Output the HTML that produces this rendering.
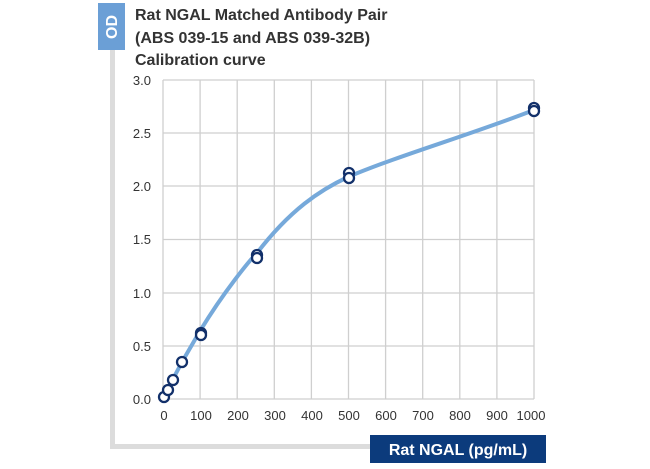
<!DOCTYPE html>
<html><head><style>
body{margin:0;background:#fff;width:650px;height:464px;overflow:hidden;font-family:"Liberation Sans",sans-serif}
</style></head><body>
<svg width="650" height="464" xmlns="http://www.w3.org/2000/svg" font-family="Liberation Sans, sans-serif">
<rect x="110" y="45" width="5" height="404" fill="#dcdcdc"/>
<rect x="110" y="444" width="265" height="5" fill="#dcdcdc"/>
<rect x="98" y="3" width="27" height="47" fill="#6b9fd6"/>
<text x="0" y="0" transform="translate(117,27) rotate(-90)" text-anchor="middle" fill="#fff" font-size="16" font-weight="bold">OD</text>
<text x="135" y="20" font-size="16" font-weight="bold" fill="#333">Rat NGAL Matched Antibody Pair</text>
<text x="135" y="43" font-size="16" font-weight="bold" fill="#333">(ABS 039-15 and ABS 039-32B)</text>
<text x="135" y="65" font-size="16" font-weight="bold" fill="#333">Calibration curve</text>
<g stroke="#cfcfcf" stroke-width="1.3" fill="none">
<line x1="163" y1="80" x2="534" y2="80"/><line x1="163" y1="133" x2="534" y2="133"/>
<line x1="163" y1="186" x2="534" y2="186"/><line x1="163" y1="239.5" x2="534" y2="239.5"/>
<line x1="163" y1="293" x2="534" y2="293"/><line x1="163" y1="346" x2="534" y2="346"/>
<line x1="163" y1="399" x2="534" y2="399"/>
<line x1="163" y1="80" x2="163" y2="399"/><line x1="200.1" y1="80" x2="200.1" y2="399"/>
<line x1="237.2" y1="80" x2="237.2" y2="399"/><line x1="274.3" y1="80" x2="274.3" y2="399"/>
<line x1="311.4" y1="80" x2="311.4" y2="399"/><line x1="348.5" y1="80" x2="348.5" y2="399"/>
<line x1="385.6" y1="80" x2="385.6" y2="399"/><line x1="422.7" y1="80" x2="422.7" y2="399"/>
<line x1="459.8" y1="80" x2="459.8" y2="399"/><line x1="496.9" y1="80" x2="496.9" y2="399"/>
<line x1="534" y1="80" x2="534" y2="399"/>
</g>
<g font-size="13" fill="#333" text-anchor="end">
<text x="151" y="85">3.0</text><text x="151" y="138">2.5</text><text x="151" y="191">2.0</text>
<text x="151" y="244">1.5</text><text x="151" y="298">1.0</text><text x="151" y="351">0.5</text><text x="151" y="404">0.0</text>
</g>
<g font-size="13" fill="#333" text-anchor="middle">
<text x="164" y="420">0</text><text x="201" y="420">100</text><text x="238" y="420">200</text><text x="275" y="420">300</text>
<text x="312" y="420">400</text><text x="349" y="420">500</text><text x="386" y="420">600</text><text x="423" y="420">700</text>
<text x="460" y="420">800</text><text x="497" y="420">900</text><text x="531" y="420">1000</text>
</g>
<path d="M163,399 L168,390 L172,381 L182,362 L200,331 C225,290 250,260 257,253 C290,210 320,190 348,177 C400,155 470,135 534,110" stroke="#76a9da" stroke-width="4" fill="none" stroke-linecap="round"/>
<g fill="#fff" stroke="#12306a" stroke-width="2.3">
<circle cx="164" cy="397" r="5"/><circle cx="168" cy="390" r="5"/><circle cx="173" cy="380" r="5"/>
<circle cx="182" cy="362" r="5"/><circle cx="201" cy="333" r="5"/><circle cx="201" cy="335" r="5"/>
<circle cx="257" cy="255" r="5"/><circle cx="257" cy="258" r="5"/>
<circle cx="349" cy="173" r="5"/><circle cx="349" cy="178" r="5"/>
<circle cx="534" cy="108" r="5"/><circle cx="534" cy="111" r="5"/>
</g>
<rect x="370" y="435" width="176" height="28" fill="#0c3b7c"/>
<text x="458" y="455" text-anchor="middle" font-size="16" font-weight="bold" fill="#fff">Rat NGAL (pg/mL)</text>
</svg>
</body></html>
